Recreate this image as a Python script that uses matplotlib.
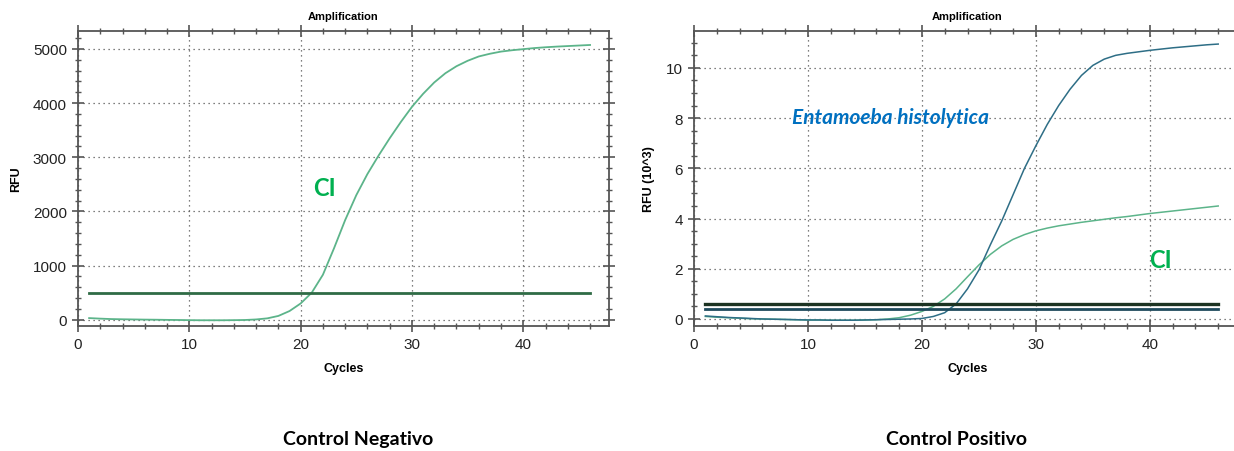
import matplotlib
matplotlib.use("Agg")
import matplotlib.pyplot as plt
from matplotlib.ticker import MultipleLocator

plt.rcParams['font.family'] = ['Liberation Sans', 'DejaVu Sans']

cycles = list(range(1, 47))

# Control Negativo: internal control (CI) curve, RFU
neg_ci = [30, 20, 12, 8, 5, 2, 0, -3, -5, -8,
          -10, -10, -10, -8, -5, 5, 25, 70, 160, 300,
          500, 830, 1320, 1840, 2300, 2690, 3030, 3350, 3650, 3930,
          4170, 4380, 4550, 4680, 4780, 4860, 4910, 4950, 4975, 4995,
          5015, 5030, 5042, 5052, 5062, 5072]
neg_threshold = 500

# Control Positivo: RFU (10^3)
pos_ci = [0.10, 0.07, 0.05, 0.03, 0.01, 0.0, -0.01, -0.02, -0.03, -0.04,
          -0.04, -0.05, -0.05, -0.05, -0.04, -0.03, 0.0, 0.05, 0.15, 0.30,
          0.50, 0.80, 1.20, 1.68, 2.15, 2.57, 2.91, 3.17, 3.36, 3.51,
          3.62, 3.71, 3.78, 3.85, 3.91, 3.97, 4.03, 4.08, 4.14, 4.20,
          4.25, 4.30, 4.35, 4.40, 4.45, 4.50]
pos_eh = [0.12, 0.09, 0.06, 0.04, 0.02, 0.0, -0.01, -0.02, -0.03, -0.04,
          -0.04, -0.05, -0.05, -0.05, -0.04, -0.03, -0.02, -0.01, 0.0, 0.02,
          0.10, 0.25, 0.60, 1.20, 1.95, 2.95, 3.90, 4.95, 6.00, 6.90,
          7.75, 8.50, 9.15, 9.70, 10.10, 10.35, 10.50, 10.58, 10.64, 10.70,
          10.75, 10.80, 10.84, 10.88, 10.92, 10.95]
pos_threshold_ci = 0.6
pos_threshold_eh = 0.4

green_curve = '#5cb48a'
blue_curve = '#2e6e86'
label_green = '#00b050'
label_blue = '#0070c0'
spine_col = '#555555'

W, H = 1234, 452
fig = plt.figure(figsize=(W / 100, H / 100), dpi=100)

def px_axes(x0, y0, x1, y1):
    return fig.add_axes([x0 / W, 1 - y1 / H, (x1 - x0) / W, (y1 - y0) / H])

def style_axes(ax, ymajor, yminor, show_right=True):
    ax.xaxis.set_major_locator(MultipleLocator(10))
    ax.xaxis.set_minor_locator(MultipleLocator(2))
    ax.yaxis.set_major_locator(MultipleLocator(ymajor))
    ax.yaxis.set_minor_locator(MultipleLocator(yminor))
    ax.tick_params(which='major', direction='inout', length=9, width=1.2,
                   color=spine_col, labelsize=11, labelcolor='#222222',
                   top=True, right=show_right)
    ax.tick_params(which='minor', direction='inout', length=5, width=1,
                   color=spine_col, top=True, right=show_right)
    for s in ax.spines.values():
        s.set_color(spine_col)
        s.set_linewidth(1.3)
    ax.grid(True, which='major', linestyle=(0, (1, 3)), color='#555555', linewidth=0.9)
    ax.set_title('Amplification', fontsize=8, fontweight='bold', pad=9)
    ax.set_xlabel('Cycles', fontsize=9, fontweight='bold', labelpad=8)

# ---- Control Negativo
ax1 = px_axes(78, 32, 609, 327)
ax1.plot(cycles, neg_ci, color=green_curve, lw=1.3)
ax1.plot([cycles[0], cycles[-1]], [neg_threshold, neg_threshold], color='#2f6b45', lw=2)
ax1.set_xlim(0, 47.7)
ax1.set_ylim(-116, 5330)
style_axes(ax1, 1000, 200)
ax1.set_ylabel('RFU', fontsize=9, fontweight='bold', labelpad=8)
ax1.text(22.1, 2450, 'CI', color=label_green, fontsize=17, fontweight='bold',
         family=['Lato', 'DejaVu Sans'], ha='center', va='center')

# ---- Control Positivo
ax2 = px_axes(694, 32, 1241, 327)
ax2.plot(cycles, pos_ci, color=green_curve, lw=1.1)
ax2.plot(cycles, pos_eh, color=blue_curve, lw=1.1)
ax2.plot([cycles[0], cycles[-1]], [pos_threshold_ci, pos_threshold_ci], color='#1c3322', lw=2.4)
ax2.plot([cycles[0], cycles[-1]], [pos_threshold_eh, pos_threshold_eh], color='#1e4a5c', lw=2)
ax2.set_xlim(0, 48)
ax2.set_ylim(-0.28, 11.47)
style_axes(ax2, 2, 0.5, show_right=False)
ax2.spines['right'].set_visible(False)
ax2.set_ylabel('RFU (10^3)', fontsize=9, fontweight='bold', labelpad=8)
ax2.text(40.9, 2.35, 'CI', color=label_green, fontsize=17, fontweight='bold',
         family=['Lato', 'DejaVu Sans'], ha='center', va='center')
ax2.text(17.2, 8.05, 'Entamoeba histolytica', color=label_blue, fontsize=15,
         fontweight='bold', fontstyle='italic', family=['Lato', 'DejaVu Sans'],
         ha='center', va='center')

# ---- captions
fig.text(358 / W, 1 - 440 / H, 'Control Negativo', fontsize=14, fontweight='bold',
         family=['Lato', 'DejaVu Sans'], ha='center', va='center')
fig.text(956 / W, 1 - 440 / H, 'Control Positivo', fontsize=14, fontweight='bold',
         family=['Lato', 'DejaVu Sans'], ha='center', va='center')

fig.savefig('out.png', dpi=100)
